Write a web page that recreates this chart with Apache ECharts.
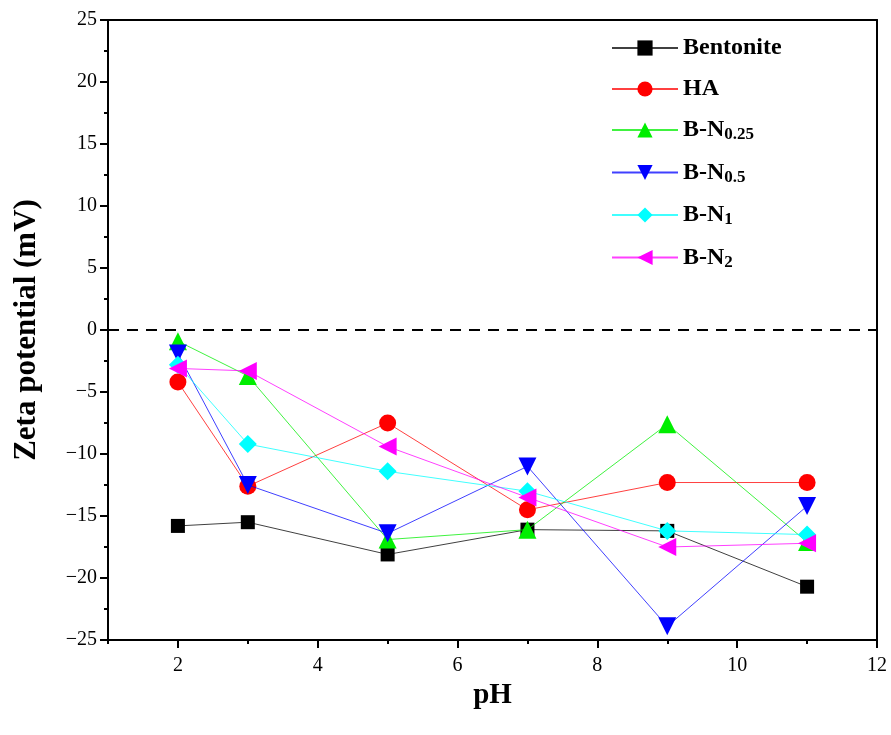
<!DOCTYPE html>
<html>
<head>
<meta charset="utf-8">
<script src="https://cdn.jsdelivr.net/npm/echarts@6/dist/echarts.min.js"></script>
<style>
  html, body { margin: 0; padding: 0; background: #fff; }
  #chart { width: 891px; height: 735px; }
</style>
</head>
<body>
<div id="chart"></div>
<script>
// pH values and zeta potentials (mV)
var phValues = [2, 3, 5, 7, 9, 11];
var bentonite = [-15.8, -15.5, -18.1, -16.1, -16.2, -20.7];
var ha = [-4.2, -12.6, -7.5, -14.5, -12.3, -12.3];
var bN025 = [-0.9, -3.7, -16.9, -16.1, -7.6, -17.1];
var bN05 = [-1.9, -12.5, -16.4, -11.0, -23.9, -14.2];
var bN1 = [-2.8, -9.2, -11.4, -13.0, -16.2, -16.5];
var bN2 = [-3.1, -3.3, -9.4, -13.5, -17.5, -17.2];
var xMajor = [2, 4, 6, 8, 10, 12];
var xMinor = [1, 3, 5, 7, 9, 11];

var seriesNames = ['Bentonite', 'HA', 'B-N0.25', 'B-N0.5', 'B-N1', 'B-N2'];
var seriesColors = ['#000000', '#ff0000', '#00ee00', '#0000ff', '#00ffff', '#ff00ff'];
var seriesSymbols = ['rect', 'circle', 'triangle', 'triangle', 'diamond', 'triangle'];
var symbolRotates = [0, 0, 0, 180, 0, 90];
var symbolSizes = [14, 17, 18, 18, 18, 18];
var seriesValues = [bentonite, ha, bN025, bN05, bN1, bN2];

var serifFont = '"Liberation Serif", "Times New Roman", serif';

function pairs(vals) {
  return phValues.map(function (x, i) { return [x, vals[i]]; });
}

var series = seriesNames.map(function (name, i) {
  var s = {
    name: name,
    type: 'line',
    xAxisIndex: 0,
    yAxisIndex: 0,
    data: pairs(seriesValues[i]),
    symbol: seriesSymbols[i],
    symbolSize: symbolSizes[i],
    symbolRotate: symbolRotates[i],
    showAllSymbol: true,
    color: seriesColors[i],
    lineStyle: { width: 1, color: seriesColors[i], opacity: 0.75 },
    itemStyle: { color: seriesColors[i] },
    emphasis: { disabled: true },
    animation: false,
    z: 3 + i
  };
  if (i === 0) {
    s.markLine = {
      silent: true,
      symbol: 'none',
      label: { show: false },
      lineStyle: { type: [11, 8], color: '#000', width: 2 },
      data: [{ yAxis: 0 }]
    };
  }
  return s;
});

var legendRich = {
  n: { fontFamily: serifFont, fontWeight: 'bold', fontSize: 24, color: '#000' },
  s: { fontFamily: serifFont, fontWeight: 'bold', fontSize: 17, color: '#000', verticalAlign: 'bottom', padding: [10, 0, 0, 0] }
};

var option = {
  backgroundColor: '#fff',
  animation: false,
  grid: { left: 108, right: 14, top: 20, bottom: 95, show: false },
  legend: {
    orient: 'vertical',
    left: 606,
    top: 31,
    itemWidth: 66,
    itemHeight: 19,
    itemGap: 17,
    data: seriesNames,
    formatter: function (name) {
      var m = name.match(/^B-N(.*)$/);
      if (m) return '{n|B-N}{s|' + m[1] + '}';
      return '{n|' + name + '}';
    },
    textStyle: { rich: legendRich }
  },
  xAxis: [{
    type: 'value',
    min: 1,
    max: 12,
    name: 'pH',
    nameLocation: 'middle',
    nameGap: 39,
    nameTextStyle: { fontFamily: serifFont, fontWeight: 'bold', fontSize: 29, color: '#000' },
    axisLine: { show: true, onZero: false, lineStyle: { color: '#000', width: 2 } },
    axisTick: { show: true, inside: false, length: 8, lineStyle: { color: '#000', width: 2 }, customValues: xMajor },
    axisLabel: { show: true, customValues: xMajor, margin: 16, fontFamily: serifFont, fontSize: 20, color: '#000' },
    splitLine: { show: false }
  }, {
    type: 'value',
    min: 1,
    max: 12,
    position: 'bottom',
    axisLine: { show: false, onZero: false },
    axisTick: { show: true, inside: false, length: 4, lineStyle: { color: '#000', width: 2 }, customValues: xMinor },
    axisLabel: { show: false },
    splitLine: { show: false }
  }, {
    type: 'value',
    min: 1,
    max: 12,
    position: 'top',
    axisLine: { show: true, onZero: false, lineStyle: { color: '#000', width: 2 } },
    axisTick: { show: false },
    axisLabel: { show: false },
    splitLine: { show: false }
  }],
  yAxis: [{
    type: 'value',
    min: -25,
    max: 25,
    interval: 5,
    name: 'Zeta potential (mV)',
    nameLocation: 'middle',
    nameGap: 66,
    nameTextStyle: { fontFamily: serifFont, fontWeight: 'bold', fontSize: 31, color: '#000' },
    axisLine: { show: true, onZero: false, lineStyle: { color: '#000', width: 2 } },
    axisTick: { show: true, inside: false, length: 8, lineStyle: { color: '#000', width: 2 } },
    minorTick: { show: true, splitNumber: 2, length: 4, lineStyle: { color: '#000', width: 2 } },
    axisLabel: { margin: 11, fontFamily: serifFont, fontSize: 20, color: '#000',
      formatter: function (v) { return v < 0 ? '\u2212' + Math.abs(v) : '' + v; } },
    splitLine: { show: false },
    minorSplitLine: { show: false }
  }, {
    type: 'value',
    min: -25,
    max: 25,
    position: 'right',
    axisLine: { show: true, onZero: false, lineStyle: { color: '#000', width: 2 } },
    axisTick: { show: false },
    axisLabel: { show: false },
    splitLine: { show: false }
  }],
  series: series
};

var chart = echarts.init(document.getElementById('chart'), null, { renderer: 'canvas' });
chart.setOption(option);
</script>
</body>
</html>
